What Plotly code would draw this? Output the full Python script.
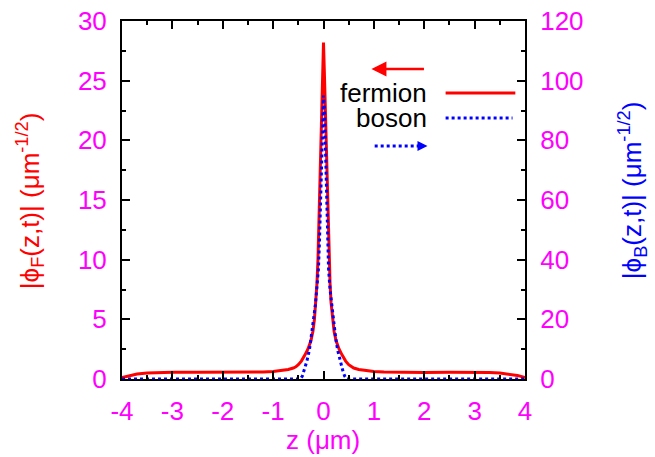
import plotly.graph_objects as go

# ---- data ----
z_fermion = [-4.0, -3.85, -3.7, -3.5, -3.3, -3.0, -2.5, -2.0, -1.5, -1.2, -1.0, -0.9, -0.8, -0.7, -0.6,
             -0.55, -0.5, -0.44, -0.37, -0.31, -0.25, -0.21, -0.18, -0.15, -0.13, -0.11, -0.09,
             -0.075, -0.06, -0.045, -0.03, -0.015, 0.0,
             0.015, 0.03, 0.045, 0.06, 0.075, 0.09, 0.11, 0.13, 0.15, 0.18, 0.21, 0.25, 0.31,
             0.37, 0.44, 0.5, 0.55, 0.6, 0.7, 0.8, 0.9, 1.0, 1.2, 1.5, 2.0, 2.5, 3.0, 3.3, 3.5,
             3.7, 3.85, 4.0]
phi_fermion = [0.12, 0.3, 0.42, 0.5, 0.55, 0.57, 0.56, 0.55, 0.56, 0.58, 0.63, 0.67, 0.73, 0.8, 0.92,
               1.02, 1.2, 1.5, 2.0, 2.5, 3.2, 4.0, 5.0, 6.4, 8.0, 10.0, 13.5,
               16.3, 19.2, 21.5, 23.8, 26.0, 28.2,
               26.0, 23.8, 21.5, 19.2, 16.3, 13.5, 10.0, 8.0, 6.4, 5.0, 4.0, 3.2, 2.5,
               2.0, 1.5, 1.2, 1.02, 0.92, 0.8, 0.73, 0.67, 0.63, 0.58, 0.56, 0.55, 0.56, 0.57, 0.55, 0.5,
               0.42, 0.3, 0.12]

z_boson = [-4.0, -0.46, -0.42, -0.38, -0.33, -0.28, -0.24, -0.2, -0.16, -0.13, -0.1, -0.08, -0.06,
           -0.04, -0.02, 0.0,
           0.02, 0.04, 0.06, 0.08, 0.1, 0.13, 0.16, 0.2, 0.24, 0.28, 0.33, 0.38, 0.42, 0.46, 4.0]
phi_boson = [0.0, 0.0, 1.0, 3.0, 6.0, 9.7, 14.0, 19.8, 25.0, 30.0, 37.0, 46.0, 60.0,
             76.8, 90.0, 95.0,
             90.0, 76.8, 60.0, 46.0, 37.0, 30.0, 25.0, 19.8, 14.0, 9.7, 6.0, 3.0, 1.0, 0.0, 0.0]

x_ticks = [-4, -3, -2, -1, 0, 1, 2, 3, 4]
y_left_ticks = [0, 5, 10, 15, 20, 25, 30]
y_right_ticks = [0, 20, 40, 60, 80, 100, 120]

FONT = "Liberation Sans, Arial, Helvetica, sans-serif"
MAG = "#ff00ff"
RED = "#ff0000"
BLUE = "#0000ff"
FS = 26

fig = go.Figure()
fig.add_trace(go.Scatter(x=z_fermion, y=phi_fermion, mode="lines", name="fermion",
                         line=dict(color=RED, width=3), yaxis="y"))
fig.add_trace(go.Scatter(x=z_boson, y=phi_boson, mode="lines", name="boson",
                         line=dict(color=BLUE, width=3, dash="3px,3px"), yaxis="y2"))

axis_common = dict(showgrid=False, zeroline=False, showline=True, linecolor="black", linewidth=2,
                   ticks="inside", ticklen=8, tickwidth=1.5, tickcolor="black", automargin=False,
                   tickfont=dict(family=FONT, size=FS, color=MAG))

fig.update_layout(
    width=655, height=457,
    margin=dict(l=122, r=129.5, t=21, b=78),
    plot_bgcolor="white", paper_bgcolor="white",
    showlegend=False,
    xaxis=dict(range=[-4, 4], tickvals=x_ticks, ticktext=[str(v) for v in x_ticks],
               mirror="ticks", ticklabelstandoff=8,
               minor=dict(dtick=0.5, ticks="inside", ticklen=4, tickcolor="black", tickwidth=1.5),
               **axis_common),
    yaxis=dict(range=[0, 30], tickvals=y_left_ticks, ticktext=[str(v) for v in y_left_ticks],
               ticklabelstandoff=8,
               minor=dict(dtick=2.5, ticks="inside", ticklen=4, tickcolor="black", tickwidth=1.5),
               **axis_common),
    yaxis2=dict(range=[0, 120], tickvals=y_right_ticks, ticktext=[str(v) for v in y_right_ticks],
                overlaying="y", side="right", ticklabelstandoff=8,
                minor=dict(dtick=10, ticks="inside", ticklen=4, tickcolor="black", tickwidth=1.5),
                **axis_common),
)

# axis titles
fig.add_annotation(text="|ϕ<sub>F</sub>(z,t)| (μm<sup>-1/2</sup>)", xref="paper", yref="paper",
                   x=-0.228, y=0.497, xanchor="center", yanchor="middle", textangle=-90,
                   showarrow=False, font=dict(family=FONT, size=FS, color=RED))
fig.add_annotation(text="|ϕ<sub>B</sub>(z,t)| (μm<sup>-1/2</sup>)", xref="paper", yref="paper",
                   x=1.266, y=0.528, xanchor="center", yanchor="middle", textangle=-90,
                   showarrow=False, font=dict(family=FONT, size=FS, color=BLUE))
fig.add_annotation(text="z (μm)", xref="paper", yref="paper", x=0.499, y=-0.170,
                   xanchor="center", yanchor="middle", showarrow=False,
                   font=dict(family=FONT, size=FS, color=MAG))

# legend (hand-placed like the gnuplot key)
fig.add_annotation(text="fermion", xref="paper", yref="paper", x=0.761, y=0.799,
                   xanchor="right", yanchor="middle", showarrow=False,
                   font=dict(family=FONT, size=FS, color="black"))
fig.add_annotation(text="boson", xref="paper", yref="paper", x=0.761, y=0.729,
                   xanchor="right", yanchor="middle", showarrow=False,
                   font=dict(family=FONT, size=FS, color="black"))
fig.add_shape(type="line", xref="paper", yref="paper", x0=0.803, x1=0.976, y0=0.799, y1=0.799,
              line=dict(color=RED, width=3))
fig.add_shape(type="line", xref="paper", yref="paper", x0=0.803, x1=0.969, y0=0.729, y1=0.729,
              line=dict(color=BLUE, width=3, dash="3px,3px"))

# axis-indicator arrows
fig.add_annotation(x=0.619, y=0.866, ax=54, ay=0, xref="paper", yref="paper",
                   axref="pixel", ayref="pixel", text="", showarrow=True,
                   arrowhead=2, arrowsize=1.2, arrowwidth=2.5, arrowcolor=RED)
fig.add_shape(type="line", xref="paper", yref="paper", x0=0.627, x1=0.735, y0=0.651, y1=0.651,
              line=dict(color=BLUE, width=3, dash="3px,3px"))
fig.add_annotation(x=0.758, y=0.651, ax=-12, ay=0, xref="paper", yref="paper",
                   axref="pixel", ayref="pixel", text="", showarrow=True,
                   arrowhead=2, arrowsize=1.0, arrowwidth=2, arrowcolor=BLUE)

fig.write_html("out.html", config={"displayModeBar": False},
               post_script="document.body.style.margin='0';document.body.style.overflow='hidden';")
